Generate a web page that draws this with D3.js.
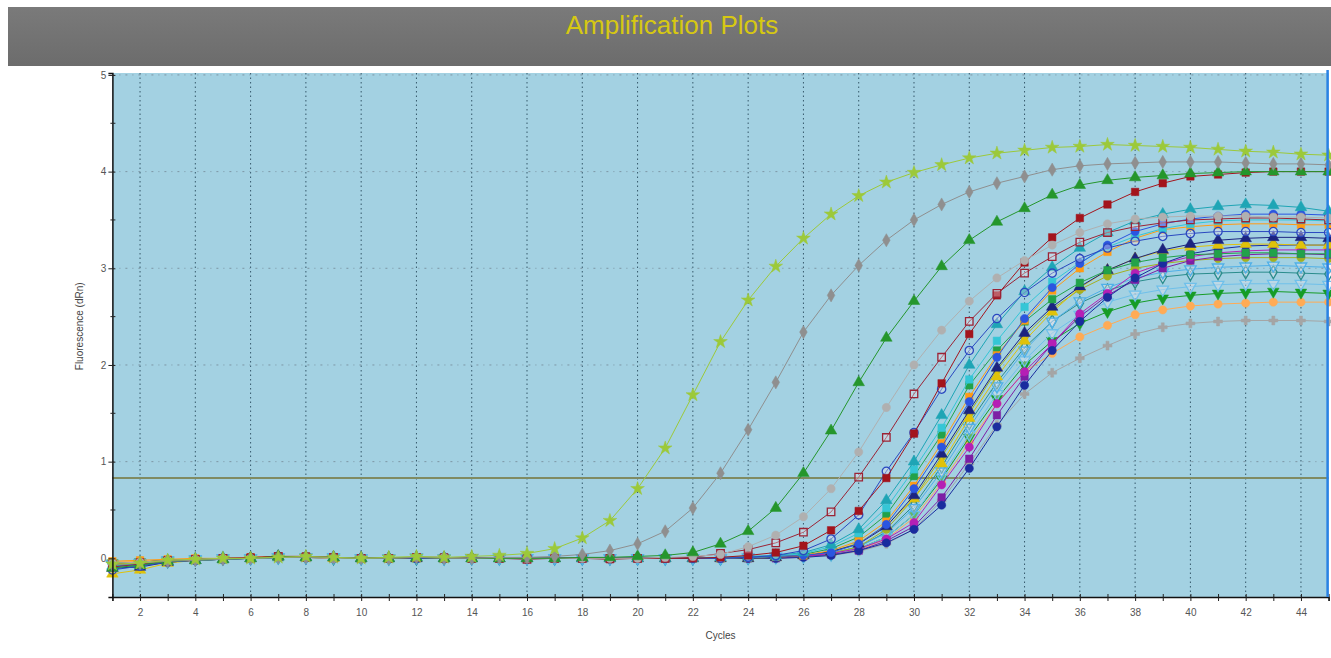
<!DOCTYPE html>
<html>
<head>
<meta charset="utf-8">
<script src="https://cdn.jsdelivr.net/npm/d3@7/dist/d3.min.js"></script>
<style>
  html, body { margin: 0; padding: 0; background: #ffffff; }
  svg { display: block; font-family: "Liberation Sans", Arial, sans-serif; }
</style>
</head>
<body>
<svg id="chart" width="1331" height="658"></svg>
<script>
// Amplification data: normalized reporter fluorescence (dRn) per cycle
const cycles = [1,2,3,4,5,6,7,8,9,10,11,12,13,14,15,16,17,18,19,20,21,22,23,24,25,26,27,28,29,30,31,32,33,34,35,36,37,38,39,40,41,42,43,44,45];
const xTickLabels = [2,4,6,8,10,12,14,16,18,20,22,24,26,28,30,32,34,36,38,40,42,44];
const yTickLabels = [0,1,2,3,4,5];
const threshold = 0.83;

const yellowGreen = [-0.06,-0.05,-0.02,-0.01,0,0,0.01,0.02,0.01,0, 0.01,0.02,0.01,0.02,0.03,0.05,0.10,0.21,0.39,0.72, 1.14,1.69,2.24,2.67,3.02,3.31,3.56,3.75,3.89,3.99, 4.07,4.14,4.19,4.22,4.25,4.26,4.28,4.27,4.26,4.25, 4.23,4.21,4.20,4.18,4.17];
const grayDiamond = [-0.07,-0.05,-0.03,-0.02,-0.01,0,0.01,0.01,0.01,0, 0,0.01,0,0,0.01,0.01,0.02,0.04,0.08,0.15, 0.28,0.52,0.88,1.33,1.82,2.34,2.72,3.03,3.29,3.50, 3.66,3.79,3.88,3.95,4.02,4.06,4.08,4.09,4.10,4.10, 4.10,4.09,4.08,4.08,4.07];
const greenTriangle = [-0.10,-0.07,-0.03,-0.02,-0.01,0,0.02,0.01,0.01,0, 0,0.01,0,0,0,0,0,0.01,0.01,0.02, 0.03,0.06,0.15,0.28,0.52,0.88,1.32,1.82,2.28,2.66, 3.02,3.29,3.48,3.62,3.76,3.86,3.91,3.94,3.96,3.98, 3.99,4.00,4.00,4.00,4.00];
const grayCircle = [-0.05,-0.04,-0.02,-0.01,0,0,0.01,0.01,0,0, 0,0.01,0.01,0,0,0,0,0,0,0, 0.01,0.02,0.04,0.12,0.24,0.43,0.72,1.10,1.56,2.00, 2.36,2.66,2.90,3.08,3.24,3.37,3.46,3.51,3.53,3.54, 3.54,3.54,3.53,3.53,3.52];
const redOpenSquare = [-0.09,-0.06,-0.03,-0.01,0,0,0.02,0.01,0.01,0, 0,0.01,0,0,0,-0.01,0,0,0,0, 0,0.01,0.05,0.09,0.16,0.27,0.48,0.84,1.25,1.70, 2.08,2.45,2.74,2.95,3.12,3.27,3.37,3.43,3.47,3.50, 3.51,3.52,3.52,3.51,3.50];
const redSquare = [-0.06,-0.04,-0.02,-0.01,0,0.01,0.02,0.02,0.01,0, 0,0.01,0.01,0,0,0,0,0,-0.01,0, 0,0,0.01,0.03,0.06,0.13,0.29,0.49,0.83,1.29, 1.81,2.32,2.72,3.06,3.32,3.52,3.66,3.79,3.88,3.95, 3.97,3.99,4.00,4.00,4.00];
const blueOpenCircle = [-0.12,-0.08,-0.04,-0.02,-0.01,0,0.01,0.01,0.01,0, 0,0,0.01,0,0,0,0,0,0,0, 0,0,0,0.01,0.03,0.08,0.20,0.45,0.90,1.30, 1.75,2.15,2.48,2.75,2.95,3.10,3.21,3.28,3.33,3.36, 3.38,3.38,3.38,3.37,3.37];
const tealTriangle = [-0.08,-0.05,-0.03,-0.02,-0.01,0,0.01,0.01,0.01,0, 0,0.01,0,0,0,0,0,0,0,0, 0,0,0.01,0.02,0.03,0.06,0.14,0.30,0.60,1.00, 1.48,2.00,2.42,2.76,3.01,3.21,3.37,3.49,3.56,3.61, 3.64,3.66,3.65,3.63,3.59];
const cyanSquare = [-0.10,-0.07,-0.03,-0.02,-0.01,0,0.01,0.02,0.01,0, 0,0.01,0.01,0,0,0,0,0,0,0, 0,0,0.01,0.01,0.02,0.05,0.12,0.26,0.52,0.92, 1.35,1.85,2.25,2.60,2.86,3.06,3.22,3.33,3.41,3.46, 3.49,3.50,3.50,3.50,3.49];
const greenSquare = [-0.07,-0.05,-0.02,-0.01,0,0,0.01,0.01,0.01,0, 0,0,0.01,0,0,0,0,0,0,0, 0,0,0,0.01,0.02,0.04,0.10,0.22,0.45,0.85, 1.28,1.79,2.15,2.45,2.68,2.85,2.98,3.06,3.11,3.14, 3.15,3.16,3.16,3.15,3.15];
const orangeSquare = [-0.03,-0.02,-0.01,0,0,0.01,0.02,0.02,0.01,0, 0,0.01,0.01,0,0,0,0,0,0,0, 0,0,0,0.01,0.02,0.03,0.08,0.18,0.38,0.75, 1.19,1.67,2.10,2.46,2.77,3.00,3.17,3.31,3.40,3.43, 3.45,3.46,3.46,3.45,3.45];
const navyTriangle = [-0.10,-0.09,-0.04,-0.02,-0.01,0,0.02,0.01,0.01,0, 0,0,0,0,0,0,0,0,0,0, 0,0,0,0,0.01,0.03,0.07,0.15,0.33,0.65, 1.08,1.53,1.97,2.33,2.60,2.81,2.98,3.10,3.19,3.25, 3.29,3.31,3.32,3.32,3.31];
const goldTriangle = [-0.16,-0.12,-0.05,-0.02,-0.01,0,0.01,0.01,0,0, 0,0,0,0,0,0,0,0,0,0, 0,0,0,0,0.01,0.03,0.07,0.16,0.34,0.62, 0.98,1.45,1.88,2.25,2.55,2.80,2.98,3.10,3.18,3.22, 3.24,3.25,3.25,3.24,3.24];
const magentaCircle = [-0.09,-0.06,-0.03,-0.02,-0.01,0,0.01,0.01,0.01,0, 0,0,0,0,0,0,0,0,0,0, 0,0,0,0,0.01,0.02,0.05,0.10,0.20,0.37, 0.76,1.15,1.60,1.93,2.22,2.53,2.74,2.95,3.05,3.12, 3.16,3.18,3.19,3.19,3.19];
const purpleSquare = [-0.08,-0.06,-0.03,-0.01,0,0,0.01,0.01,0,0, 0,0,0,0,0,0,0,0,0,0, 0,0,0,0,0,0.02,0.04,0.08,0.18,0.33, 0.63,1.03,1.48,1.88,2.22,2.50,2.72,2.88,3.00,3.08, 3.12,3.14,3.15,3.15,3.14];
const navyCircle = [-0.11,-0.07,-0.04,-0.02,-0.01,0,0.01,0.01,0.01,0, 0,0,0,0,0,0,0,0,0,0, 0,0,0,0,0,0.01,0.03,0.08,0.16,0.30, 0.55,0.93,1.36,1.79,2.15,2.45,2.70,2.90,3.05,3.15, 3.20,3.23,3.24,3.24,3.24];
const lightBlueOpenDown = [-0.06,-0.05,-0.02,-0.01,0,0,0.01,0.01,0.01,0, 0,0.01,0,0,0,0,0,0,0,0, 0,0,0,0.01,0.02,0.03,0.05,0.12,0.26,0.52, 0.90,1.35,1.78,2.15,2.45,2.66,2.80,2.90,2.96,2.99, 3.01,3.02,3.03,3.02,3.01];
const tealOpenDiamond = [-0.07,-0.05,-0.03,-0.01,0,0,0.01,0.01,0,0, 0,0,0,0,0,0,0,0,0,0, 0,0,0,0.01,0.02,0.03,0.05,0.12,0.27,0.55, 0.95,1.40,1.82,2.18,2.45,2.64,2.77,2.86,2.91,2.94, 2.95,2.96,2.96,2.95,2.94];
const greenDown = [-0.05,-0.04,-0.02,-0.01,0,0,0.01,0.01,0.01,0, 0,0,0,0,0,0,0,0,0,0, 0,0,0,0,0.01,0.02,0.04,0.10,0.22,0.45, 0.82,1.25,1.65,2.00,2.25,2.43,2.55,2.64,2.69,2.72, 2.74,2.75,2.76,2.75,2.74];
const lightOrange = [-0.04,-0.03,-0.02,-0.01,0,0,0.01,0.01,0.01,0, 0,0,0,0,0,0,0,0,0,0, 0,0,0,0,0.01,0.02,0.04,0.09,0.20,0.42, 0.78,1.20,1.60,1.93,2.12,2.29,2.41,2.52,2.57,2.61, 2.63,2.64,2.65,2.65,2.65];
const lightGrayX = [-0.05,-0.04,-0.02,-0.01,0,0,0.01,0.01,0,0, 0,0,0,0,0,0,0,0,0,0, 0,0,0,0,0,0.01,0.03,0.07,0.15,0.30, 0.60,0.98,1.38,1.70,1.92,2.07,2.20,2.32,2.39,2.43, 2.45,2.46,2.46,2.46,2.45];
const oliveLine = [-0.06,-0.04,-0.02,-0.01,0,0,0.01,0.02,0.01,0, 0,0,0,0,0,0,0,0,0,0, 0,0,0,0,0.01,0.02,0.05,0.12,0.30,0.62, 1.05,1.50,1.95,2.30,2.58,2.78,2.92,3.00,3.05,3.08, 3.10,3.11,3.11,3.11,3.10];
const royalBlue = [-0.08,-0.06,-0.03,-0.01,0,0,0.01,0.01,0.01,0, 0,0,0,0,0,0,0,0,0,0, 0,0,0,0.01,0.02,0.03,0.06,0.15,0.35,0.72, 1.15,1.62,2.08,2.48,2.80,3.05,3.24,3.38,3.46,3.51, 3.54,3.56,3.56,3.56,3.55];
const skyOpenDown = [-0.07,-0.05,-0.03,-0.01,0,0,0.01,0.01,0.01,0, 0,0,0,0,0,0,0,0,0,0, 0,0,0,0,0.01,0.02,0.04,0.10,0.22,0.45, 0.85,1.28,1.70,2.05,2.33,2.52,2.65,2.73,2.78,2.81, 2.83,2.84,2.84,2.84,2.83];

// Drawing style for each well trace (drawn back to front)
const traces = [
  { values: lightGrayX,       color: "#a5a5a5", shape: "cross",    open: false },
  { values: lightOrange,      color: "#ffab55", shape: "circle",   open: false },
  { values: greenDown,        color: "#169c26", shape: "down",     open: false },
  { values: skyOpenDown,      color: "#6fc0ea", shape: "down",     open: true  },
  { values: tealOpenDiamond,  color: "#2a8c8c", shape: "diamond",  open: true  },
  { values: lightBlueOpenDown,color: "#4fb0e8", shape: "down",     open: true  },
  { values: oliveLine,        color: "#a3b020", shape: "circle",   open: false },
  { values: purpleSquare,     color: "#7d1fa5", shape: "square",   open: false },
  { values: magentaCircle,    color: "#b51fb5", shape: "circle",   open: false },
  { values: navyCircle,       color: "#1a2c9e", shape: "circle",   open: false },
  { values: goldTriangle,     color: "#e0c20a", shape: "triangle", open: false },
  { values: navyTriangle,     color: "#1c2480", shape: "triangle", open: false },
  { values: greenSquare,      color: "#22a24a", shape: "square",   open: false },
  { values: orangeSquare,     color: "#ff9b14", shape: "square",   open: false },
  { values: cyanSquare,       color: "#35c6d6", shape: "square",   open: false },
  { values: royalBlue,        color: "#2b55e0", shape: "circle",   open: false },
  { values: tealTriangle,     color: "#1ea5b5", shape: "triangle", open: false },
  { values: blueOpenCircle,   color: "#2a48c0", shape: "circle",   open: true  },
  { values: redSquare,        color: "#a3141c", shape: "square",   open: false },
  { values: redOpenSquare,    color: "#9b2335", shape: "square",   open: true  },
  { values: grayCircle,       color: "#b0b0b0", shape: "circle",   open: false },
  { values: greenTriangle,    color: "#25962c", shape: "triangle", open: false },
  { values: grayDiamond,      color: "#8f8f8f", shape: "diamond",  open: false },
  { values: yellowGreen,      color: "#9cc93a", shape: "star",     open: false }
];

const svg = d3.select("#chart");

// Title banner
const defs = svg.append("defs");
const grad = defs.append("linearGradient").attr("id", "banner").attr("x1", 0).attr("y1", 0).attr("x2", 0).attr("y2", 1);
grad.append("stop").attr("offset", "0%").attr("stop-color", "#7a7a7a");
grad.append("stop").attr("offset", "100%").attr("stop-color", "#6c6c6c");
svg.append("rect").attr("x", 8).attr("y", 7).attr("width", 1323).attr("height", 59).attr("fill", "url(#banner)");
svg.append("text").attr("x", 672).attr("y", 34).attr("text-anchor", "middle")
  .attr("font-size", 26).attr("fill", "#d6c812").text("Amplification Plots");

// Scales
const x = d3.scaleLinear().domain([1, 45]).range([112.4, 1328.6]);
const y = d3.scaleLinear().domain([-0.4, 5.02]).range([597, 73]);

const plotLeft = x(1), plotRight = x(45), plotTop = y(5.02), plotBottom = y(-0.4);

// Plot background
svg.append("rect").attr("x", plotLeft).attr("y", plotTop).attr("width", plotRight - plotLeft).attr("height", plotBottom - plotTop)
  .attr("fill", "#a3d1e2");

// Grid
const grid = svg.append("g");
grid.selectAll("line.v").data(xTickLabels).join("line")
  .attr("x1", d => x(d)).attr("x2", d => x(d)).attr("y1", plotTop).attr("y2", plotBottom)
  .attr("stroke", "#35586a").attr("stroke-width", 1).attr("stroke-dasharray", "1.5,3");
grid.selectAll("line.h").data([1, 2, 3, 4, 5]).join("line")
  .attr("x1", plotLeft).attr("x2", plotRight).attr("y1", d => y(d)).attr("y2", d => y(d))
  .attr("stroke", "#7d96a4").attr("stroke-width", 1).attr("stroke-dasharray", "2,5,1,5");

// Threshold
svg.append("line").attr("x1", plotLeft).attr("x2", plotRight).attr("y1", y(threshold)).attr("y2", y(threshold))
  .attr("stroke", "#808b62").attr("stroke-width", 2);

// Traces
const symbolFor = {
  circle: d3.symbolCircle, square: d3.symbolSquare, triangle: d3.symbolTriangle,
  down: d3.symbolTriangle, diamond: d3.symbolDiamond, star: d3.symbolStar, cross: d3.symbolCross
};
const sizeFor = { circle: 54, square: 56, triangle: 58, down: 58, diamond: 50, star: 58, cross: 44 };

const line = d3.line().x((d, i) => x(cycles[i])).y(d => y(d));
const plot = svg.append("g");
traces.forEach(t => {
  const g = plot.append("g");
  g.append("path").attr("d", line(t.values)).attr("fill", "none")
    .attr("stroke", t.color).attr("stroke-width", 1);
  const sym = d3.symbol().type(symbolFor[t.shape]).size(sizeFor[t.shape]);
  g.selectAll("path.m").data(t.values).join("path")
    .attr("d", sym)
    .attr("transform", (d, i) => `translate(${x(cycles[i])},${y(d)})` + (t.shape === "down" ? " rotate(180)" : ""))
    .attr("fill", t.open ? "#f1e6ea" : t.color)
    .attr("fill-opacity", t.open ? 0.35 : 1)
    .attr("stroke", t.color).attr("stroke-width", t.open ? 1.3 : 0.5);
});

// Axes
const xAxis = d3.axisBottom(x).tickValues(cycles).tickSize(4)
  .tickFormat(d => xTickLabels.includes(d) ? d : "");
const gx = svg.append("g").attr("transform", `translate(0,${plotBottom})`).call(xAxis);
gx.select(".domain").attr("stroke", "#111").attr("stroke-width", 1.5);
gx.selectAll(".tick line").attr("stroke", "#222").attr("y1", -3);
gx.selectAll(".tick text").attr("font-size", 10).attr("fill", "#555").attr("dy", "1.2em");

const yMinor = [-0.5, 0.5, 1.5, 2.5, 3.5, 4.5];
const yAxis = d3.axisLeft(y).tickValues(yTickLabels).tickSize(4).tickFormat(d3.format("d"));
const gy = svg.append("g").attr("transform", `translate(${plotLeft},0)`).call(yAxis);
gy.select(".domain").attr("stroke", "#111").attr("stroke-width", 1.5);
gy.selectAll(".tick line").attr("stroke", "#222").attr("x2", 3).attr("x1", -4);
gy.selectAll(".tick text").attr("font-size", 10).attr("fill", "#555").attr("x", -6);
gy.selectAll("line.minor").data(yMinor.filter(v => v > -0.4)).join("line")
  .attr("x1", -2).attr("x2", 3).attr("y1", d => y(d)).attr("y2", d => y(d))
  .attr("stroke", "#222");

// Right edge marker
svg.append("line").attr("x1", plotRight - 1).attr("x2", plotRight - 1).attr("y1", plotTop - 3).attr("y2", plotBottom)
  .attr("stroke", "#2a82e4").attr("stroke-width", 2.5);

// Axis titles
svg.append("text").attr("x", (plotLeft + plotRight) / 2).attr("y", 639).attr("text-anchor", "middle")
  .attr("font-size", 10).attr("fill", "#444").text("Cycles");
svg.append("text").attr("transform", `translate(83,${(y(2.4))}) rotate(-90)`).attr("text-anchor", "middle")
  .attr("font-size", 10).attr("fill", "#444").text("Fluorescence (dRn)");
</script>
</body>
</html>
